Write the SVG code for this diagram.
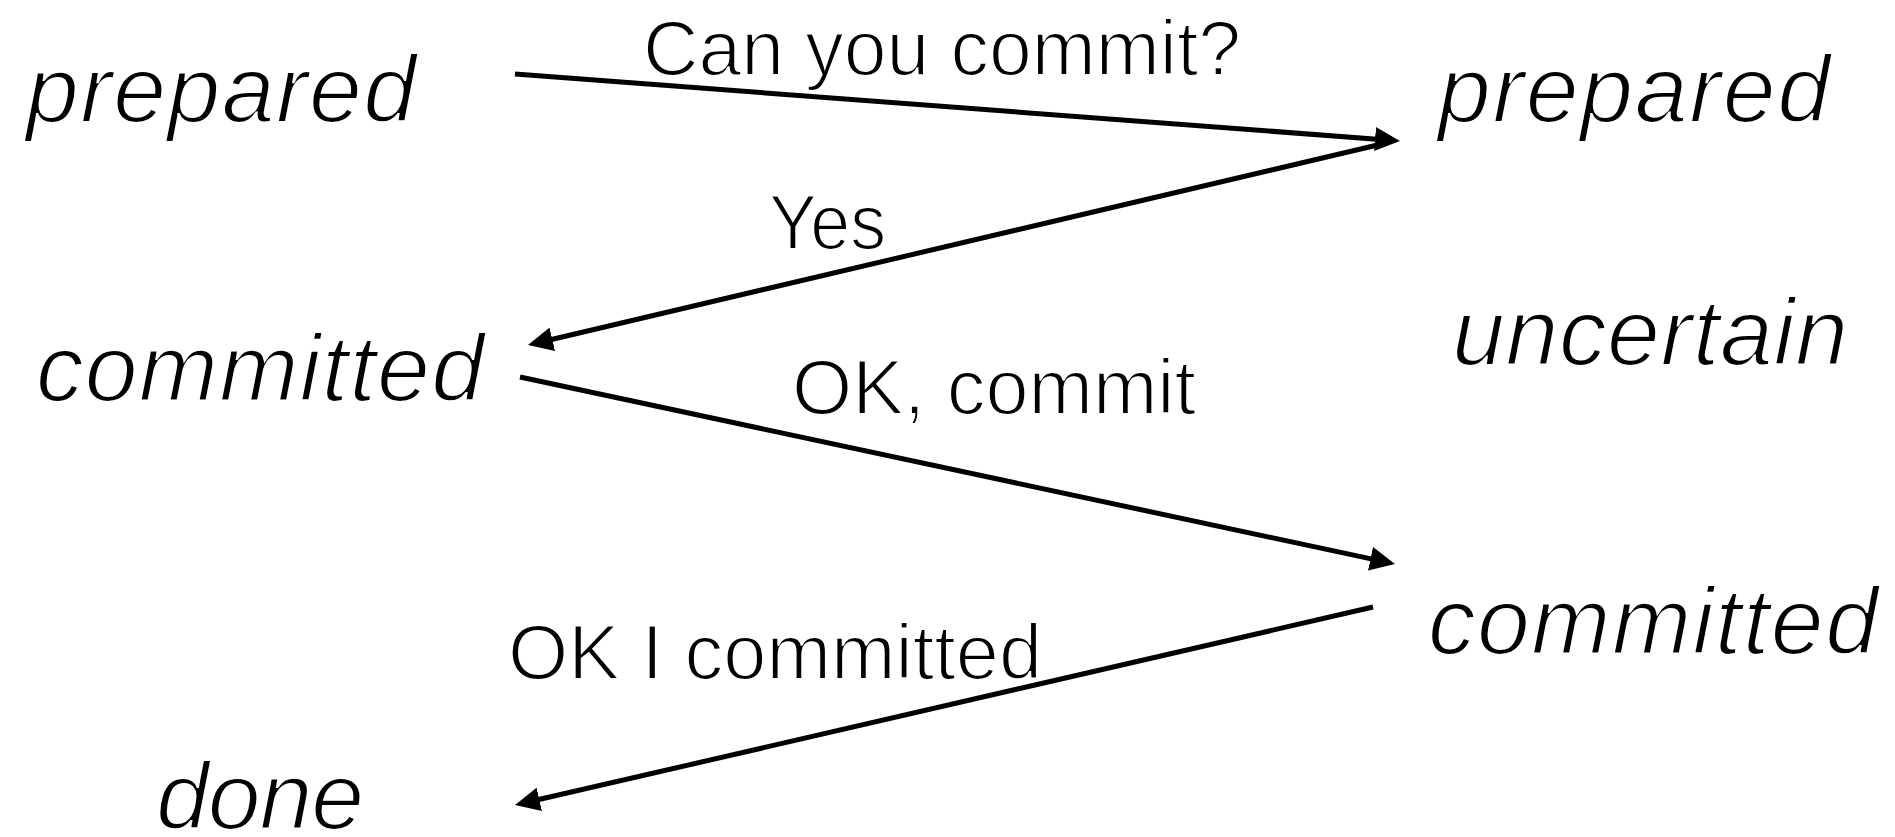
<svg xmlns="http://www.w3.org/2000/svg" width="1895" height="837" viewBox="0 0 1895 837">
  <style>
    /* Liberation Sans is heavier than a light face; a thin white outline trims the strokes */
    .state { font-family: "Liberation Sans", Arial, sans-serif; font-style: italic; font-size: 95px; fill: #000; stroke: #fff; stroke-width: 2.2px; paint-order: normal; }
    .msg { font-family: "Liberation Sans", Arial, sans-serif; font-size: 78px; fill: #000; stroke: #fff; stroke-width: 2px; paint-order: normal; }
    .edge { fill: none; stroke: #000; stroke-width: 5; }
  </style>
  <defs>
    <marker id="arrow" viewBox="0 0 25 24" markerUnits="userSpaceOnUse" markerWidth="25" markerHeight="24" refX="15" refY="12" orient="auto">
      <path d="M0,0 L25,12 L0,24 z" fill="#000"/>
    </marker>
  </defs>
  <rect width="1895" height="837" fill="#fff"/>

  <!-- coordinator states (left) -->
  <g id="coord-prepared"><text class="state" x="26" y="122" textLength="390">prepared</text></g>
  <g id="coord-committed"><text class="state" x="36" y="401" textLength="448">committed</text></g>
  <g id="coord-done"><text class="state" x="156" y="829" textLength="208">done</text></g>

  <!-- participant states (right) -->
  <g id="part-prepared"><text class="state" x="1438" y="122" textLength="392">prepared</text></g>
  <g id="part-uncertain"><text class="state" x="1452" y="365" textLength="396">uncertain</text></g>
  <g id="part-committed"><text class="state" x="1428" y="654" textLength="450">committed</text></g>

  <!-- messages -->
  <g id="connectors">
    <path class="edge" d="M515,74 L1390,140.2" marker-end="url(#arrow)"/>
    <path class="edge" d="M1386,143 L537.7,342.7" marker-end="url(#arrow)"/>
    <path class="edge" d="M520,377 L1385.2,561.9" marker-end="url(#arrow)"/>
    <path class="edge" d="M1373,607 L524.7,802.8" marker-end="url(#arrow)"/>
  </g>

  <g id="labels">
    <text class="msg" x="643" y="75" textLength="598" lengthAdjust="spacingAndGlyphs">Can you commit?</text>
    <text class="msg" x="769" y="249" textLength="117" lengthAdjust="spacingAndGlyphs">Yes</text>
    <text class="msg" x="792" y="414" textLength="404" lengthAdjust="spacingAndGlyphs">OK, commit</text>
    <text class="msg" x="508" y="679" textLength="534" lengthAdjust="spacingAndGlyphs">OK I committed</text>
  </g>
</svg>
